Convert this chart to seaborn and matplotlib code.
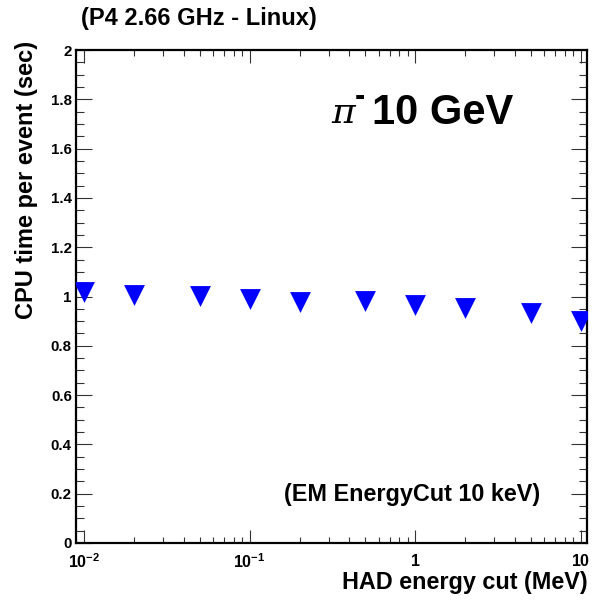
import matplotlib
matplotlib.use("Agg")
import matplotlib.pyplot as plt
import seaborn as sns
import pandas as pd
from matplotlib.ticker import FixedLocator, FixedFormatter, LogLocator, MultipleLocator, NullFormatter

# ---- data ----
had_cut_mev = [0.01, 0.02, 0.05, 0.1, 0.2, 0.5, 1, 2, 5, 10]
cpu_time_sec = [1.020, 1.005, 1.002, 0.991, 0.978, 0.981, 0.965, 0.954, 0.932, 0.900]
x_tick_values = [0.01, 0.1, 1, 10]
x_tick_labels = [r"$\mathbf{10^{-2}}$", r"$\mathbf{10^{-1}}$", r"$\mathbf{1}$", r"$\mathbf{10}$"]
y_tick_values = [0, 0.2, 0.4, 0.6, 0.8, 1, 1.2, 1.4, 1.6, 1.8, 2]
y_tick_labels = ["0", "0.2", "0.4", "0.6", "0.8", "1", "1.2", "1.4", "1.6", "1.8", "2"]

df = pd.DataFrame({"cut": had_cut_mev, "cpu": cpu_time_sec})

sns.set_theme(style="ticks", rc={"text.color": "black", "axes.labelcolor": "black",
                                 "xtick.color": "black", "ytick.color": "black",
                                 "axes.edgecolor": "black"})
plt.rcParams["font.family"] = ["Liberation Sans", "DejaVu Sans"]
plt.rcParams["mathtext.fontset"] = "custom"
plt.rcParams["mathtext.rm"] = "Liberation Sans"
plt.rcParams["mathtext.bf"] = "Liberation Sans:bold"
plt.rcParams["mathtext.it"] = "Liberation Sans:italic"

W, H = 598, 601
fig = plt.figure(figsize=(W / 100, H / 100), dpi=100)
ax = fig.add_axes([76 / W, 1 - 543 / H, (587 - 76) / W, (543 - 50) / H])

sns.scatterplot(data=df, x="cut", y="cpu", marker="v", s=15 ** 2, color="#0000ff",
                linewidth=0, ax=ax, zorder=3, legend=False)

ax.set_xscale("log")
ax.set_xlim(0.00895, 10.87)
ax.set_ylim(0, 2)

ax.xaxis.set_major_locator(FixedLocator(x_tick_values))
ax.xaxis.set_major_formatter(FixedFormatter(x_tick_labels))
ax.xaxis.set_minor_locator(LogLocator(base=10, subs=range(2, 10)))
ax.xaxis.set_minor_formatter(NullFormatter())
ax.yaxis.set_major_locator(FixedLocator(y_tick_values))
ax.yaxis.set_major_formatter(FixedFormatter(y_tick_labels))
ax.yaxis.set_minor_locator(MultipleLocator(0.05))

for sp in ax.spines.values():
    sp.set_visible(True)
    sp.set_linewidth(1.6)
    sp.set_color("black")

ax.tick_params(axis="both", which="both", direction="in", top=True, right=True,
               color="#333333", width=0.8)
ax.tick_params(axis="x", which="major", length=9.5, pad=7, labelsize=11.5)
ax.tick_params(axis="x", which="minor", length=4.5)
ax.tick_params(axis="y", which="major", length=11.5, pad=3, labelsize=10.8)
ax.tick_params(axis="y", which="minor", length=6)
for lab in ax.get_yticklabels():
    lab.set_fontweight("bold")

ax.set_xlabel("")
ax.set_ylabel("")

# axis titles
fig.text(588 / W, 1 - 583 / H, "HAD energy cut (MeV)", ha="right", va="center",
         fontsize=16.8, fontweight="bold")
fig.text(27 / W, 1 - 41 / H, "CPU time per event (sec)", ha="center", va="top",
         rotation=90, fontsize=17, fontweight="bold")

# annotations
fig.text(331 / W, 1 - 123 / H, "\u03c0", ha="left", va="baseline",
         fontsize=26, family="DejaVu Serif", style="italic")
fig.text(81 / W, 1 - 18 / H, "(P4 2.66 GHz - Linux)", ha="left", va="center",
         fontsize=17, fontweight="bold")
fig.text(360 / W, 1 - 97 / H, "-", ha="center", va="center",
         fontsize=22, fontweight="bold")
fig.text(372 / W, 1 - 124 / H, "10 GeV", ha="left", va="baseline",
         fontsize=30, fontweight="bold")
fig.text(540 / W, 1 - 495 / H, "(EM EnergyCut 10 keV)", ha="right", va="center",
         fontsize=16.8, fontweight="bold")

fig.savefig("out.png", dpi=100)
